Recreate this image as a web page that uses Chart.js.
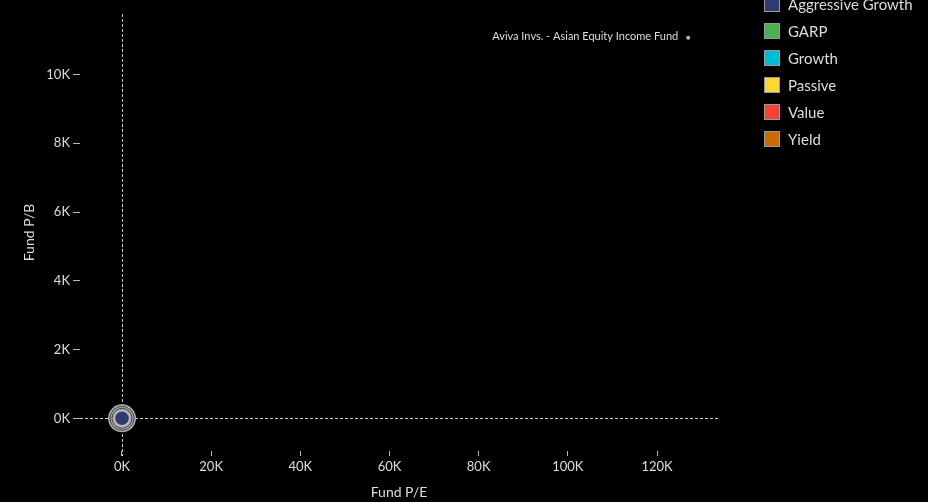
<!DOCTYPE html>
<html>
<head>
<meta charset="utf-8">
<script src="https://cdn.jsdelivr.net/npm/chart.js@4.4.1/dist/chart.umd.min.js"></script>
<style>
  html, body { margin: 0; padding: 0; background: #000; }
  #wrap { position: relative; width: 928px; height: 502px; overflow: hidden; }
  #chart { position: absolute; left: 0; top: 0; }
  #legend { position: absolute; left: 764px; top: -10px; list-style: none; margin: 0; padding: 0;
            font-family: Lato, sans-serif; font-size: 15px; color: #ddd; }
  #legend li { height: 27px; display: flex; align-items: center; }
  #legend .box { width: 14px; height: 14px; border: 1.5px solid #999; margin-right: 8px; }
</style>
</head>
<body>
<div id="wrap">
  <canvas id="chart" width="928" height="502"></canvas>
  <ul id="legend"></ul>
</div>
<script>
const categories = ['Aggressive Growth', 'GARP', 'Growth', 'Passive', 'Value', 'Yield'];
const categoryColors = ['#2e3a72', '#4caf50', '#00bcd4', '#fdd835', '#f44336', '#cc6a0a'];

// highlighted fund (sits at the origin at this scale)
const selectedPE = [0];
const selectedPB = [0];

// labelled outlier
const outlierNames = ['Aviva Invs. - Asian Equity Income Fund'];
const outlierPE = [127000];
const outlierPB = [11070];

const xTicks = [0, 20000, 40000, 60000, 80000, 100000, 120000];
const yTicks = [0, 2000, 4000, 6000, 8000, 10000];

const FONT = 'Lato, sans-serif';
const TEXT = '#dddddd';

// legend
const legend = document.getElementById('legend');
categories.forEach((c, i) => {
    const li = document.createElement('li');
    li.innerHTML = `<span class="box" style="background:${categoryColors[i]}"></span>${c}`;
    legend.appendChild(li);
});

const toPoints = (xs, ys) => xs.map((x, i) => ({ x, y: ys[i] }));

const crosshair = {
    id: 'crosshair',
    beforeDatasetsDraw(chart) {
        const { ctx, chartArea: a, scales: { x, y } } = chart;
        const x0 = x.getPixelForValue(0), y0 = y.getPixelForValue(0);
        ctx.save();
        ctx.strokeStyle = '#cccccc';
        ctx.lineWidth = 1;
        ctx.setLineDash([3, 2]);
        ctx.beginPath();
        ctx.moveTo(a.left, Math.round(y0) + 0.5);
        ctx.lineTo(a.right, Math.round(y0) + 0.5);
        ctx.moveTo(Math.round(x0) + 0.5, a.top);
        ctx.lineTo(Math.round(x0) + 0.5, a.bottom + 5);
        ctx.stroke();
        ctx.restore();
    }
};

const pointLabels = {
    id: 'pointLabels',
    afterDatasetsDraw(chart) {
        const { ctx, scales: { x, y } } = chart;
        ctx.save();
        ctx.font = '11px ' + FONT;
        ctx.fillStyle = TEXT;
        ctx.textAlign = 'right';
        ctx.textBaseline = 'middle';
        outlierNames.forEach((n, i) => {
            ctx.fillText(n, x.getPixelForValue(outlierPE[i]) - 10, y.getPixelForValue(outlierPB[i]) - 1);
        });
        ctx.restore();
    }
};

const selected = toPoints(selectedPE, selectedPB);

new Chart(document.getElementById('chart'), {
    type: 'scatter',
    data: {
        datasets: [
            { label: categories[0], data: selected, order: 1, pointRadius: 7.5,
              backgroundColor: categoryColors[0], borderColor: '#b8b8b8', borderWidth: 1.5 },
            { label: 'ring2', data: selected, order: 2, pointRadius: 10,
              backgroundColor: 'rgba(0,0,0,0)', borderColor: '#444', borderWidth: 1 },
            { label: 'ring1', data: selected, order: 3, pointRadius: 12,
              backgroundColor: 'rgba(0,0,0,0)', borderColor: '#444', borderWidth: 1 },
            { label: 'halo', data: selected, order: 4, pointRadius: 14,
              backgroundColor: '#aaaaaa', borderWidth: 0 },
            { label: 'Other', data: toPoints(outlierPE, outlierPB), order: 5, pointRadius: 2,
              backgroundColor: '#c8b898', borderWidth: 0 }
        ]
    },
    options: {
        responsive: false,
        animation: false,
        layout: { padding: { top: 10, right: 210, bottom: 0, left: 0 } },
        plugins: { legend: { display: false }, tooltip: { enabled: false } },
        scales: {
            x: {
                type: 'linear', min: -9420, max: 133680,
                afterBuildTicks: s => { s.ticks = xTicks.map(v => ({ value: v })); },
                afterFit: s => { s.height = 51; },
                ticks: { color: TEXT, font: { family: FONT, size: 13 }, padding: 3,
                         callback: v => (v / 1000) + 'K' },
                grid: { drawOnChartArea: false, tickLength: 5, color: '#bbbbbb' },
                border: { display: false },
                title: { display: true, text: 'Fund P/E', color: TEXT,
                         font: { family: FONT, size: 14 }, padding: { top: 4, bottom: 1 } }
            },
            y: {
                type: 'linear', min: -950, max: 11760,
                afterBuildTicks: s => { s.ticks = yTicks.map(v => ({ value: v })); },
                afterFit: s => { s.width = 80; },
                ticks: { color: TEXT, font: { family: FONT, size: 13 }, padding: 3,
                         callback: v => (v / 1000) + 'K' },
                grid: { drawOnChartArea: false, tickLength: 7, color: '#bbbbbb' },
                border: { display: false },
                title: { display: true, text: 'Fund P/B', color: TEXT,
                         font: { family: FONT, size: 14 }, padding: { top: 21, bottom: 0 } }
            }
        }
    },
    plugins: [crosshair, pointLabels]
});
</script>
</body>
</html>
